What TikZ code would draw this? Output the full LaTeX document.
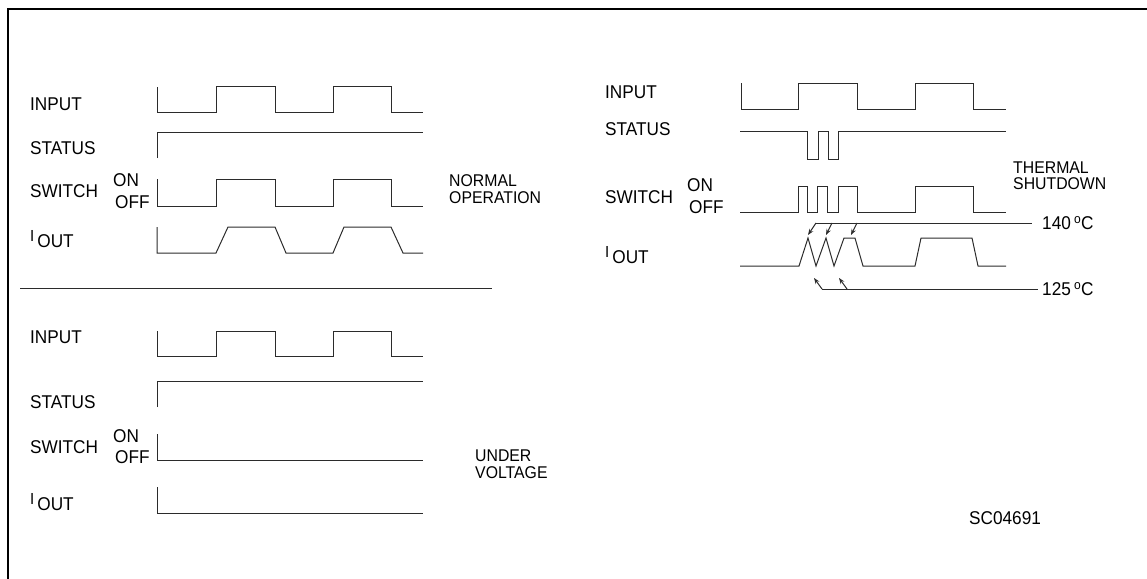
\documentclass[tikz,border=0pt]{standalone}
\usepackage{fontspec}
\setmainfont{Liberation Sans}[FakeStretch=0.93]
\usepackage{tikz}
\usetikzlibrary{arrows.meta,positioning}
\usepackage{xcolor}
\definecolor{trace}{HTML}{2b2b2b}
\newcommand{\iout}{{\fontsize{16}{16}\selectfont\raisebox{6pt}{I}}\,OUT}
\newcommand{\degc}{\,\textsuperscript{o}C}

\begin{document}
\begin{tikzpicture}[x=1pt,y=-1pt,>={Stealth[length=6pt,width=4.5pt]},
  lbl/.style={anchor=base west,inner sep=0pt,font=\fontsize{18.5}{21}\selectfont},
  note/.style={anchor=base west,inner sep=0pt,font=\fontsize{17}{20}\selectfont},
  temp/.style={inner sep=0pt,font=\fontsize{18.5}{21}\selectfont},
  wave/.style={trace,line width=1pt}]
  \useasboundingbox (0,0) rectangle (1147,578);
  \draw[line width=1.2pt] (8,580) -- (8,9) -- (1149,9);

  % normal operation
  \node[lbl] (in1) at (30,110) {INPUT};
  \node[lbl] (st1) at (30,154) {STATUS};
  \node[lbl] (sw1) at (30,197) {SWITCH};
  \node[lbl] (on1) at (113,186) {ON};
  \node[lbl] (off1) at (115,208) {OFF};
  \node[lbl] (io1) at (30,247) {\iout};
  \node[note] (norm) at (449,186) {NORMAL};
  \node[note] (oper) at (449,203) {OPERATION};
  \draw[wave] (157,87) -- (157,112) -- (216,112) -- (216,86) -- (275,86) -- (275,112)
    -- (333,112) -- (333,86) -- (391,86) -- (391,112) -- (423,112);
  \draw[wave] (157,158) -- (157,132) -- (423,132);
  \draw[wave] (157,179) -- (157,206) -- (216,206) -- (216,179) -- (275,179) -- (275,206)
    -- (333,206) -- (333,179) -- (391,179) -- (391,206) -- (423,206);
  \draw[wave] (157,227) -- (157,253) -- (216,253) -- (228,227) -- (275,227) -- (286,253)
    -- (333,253) -- (344,227) -- (391,227) -- (403,253) -- (423,253);

  \draw[wave] (20,288) -- (492,288);

  % under voltage
  \node[lbl] (in2) at (30,343) {INPUT};
  \node[lbl] (st2) at (30,408) {STATUS};
  \node[lbl] (sw2) at (30,453) {SWITCH};
  \node[lbl] (on2) at (113,442) {ON};
  \node[lbl] (off2) at (115,463) {OFF};
  \node[lbl] (io2) at (30,510) {\iout};
  \node[note] (under) at (475,461) {UNDER};
  \node[note] (volt) at (475,478) {VOLTAGE};
  \draw[wave] (157,331) -- (157,356) -- (216,356) -- (216,331) -- (275,331) -- (275,356)
    -- (333,356) -- (333,331) -- (391,331) -- (391,356) -- (423,356);
  \draw[wave] (157,407) -- (157,381) -- (423,381);
  \draw[wave] (157,434) -- (157,460) -- (423,460);
  \draw[wave] (157,487) -- (157,513) -- (423,513);

  % thermal shutdown
  \node[lbl] (in3) at (605,98) {INPUT};
  \node[lbl] (st3) at (605,135) {STATUS};
  \node[lbl] (sw3) at (605,203) {SWITCH};
  \node[lbl] (on3) at (687,191) {ON};
  \node[lbl] (off3) at (689,213) {OFF};
  \node[lbl] (io3) at (605,263) {\iout};
  \node[note] (therm) at (1013,173) {THERMAL};
  \node[note] (shut) at (1013,189) {SHUTDOWN};
  \draw[wave] (741,83) -- (741,109) -- (798,109) -- (798,83) -- (857,83) -- (857,109)
    -- (915,109) -- (915,83) -- (973,83) -- (973,109) -- (1006,109);
  \draw[wave] (740,131) -- (807,131) -- (807,159) -- (818,159) -- (818,131) -- (828,131)
    -- (828,159) -- (838,159) -- (838,131) -- (1006,131);
  \draw[wave] (740,212) -- (798,212) -- (798,186) -- (807,186) -- (807,212) -- (817,212)
    -- (817,186) -- (827,186) -- (827,212) -- (838,212) -- (838,186) -- (857,186)
    -- (857,212) -- (915,212) -- (915,186) -- (973,186) -- (973,212) -- (1006,212);
  \draw[wave] (740,266) -- (799,266) -- (808,238) -- (816,266) -- (826,238) -- (834,266)
    -- (844,238) -- (855,238) -- (863,266) -- (915,266) -- (921,238) -- (972,238)
    -- (978,266) -- (1006,266);

  % temperature limits
  \coordinate (a140) at (816,223); \coordinate (b140) at (832,223);
  \coordinate (c140) at (857,223); \coordinate (e140) at (1032,223);
  \coordinate (a125) at (822,289); \coordinate (b125) at (847,289);
  \coordinate (e125) at (1038,289);
  \node[temp,right=10pt of e140] (t140) {140\degc};
  \node[temp,right=4pt of e125] (t125) {125\degc};
  \draw[wave] (a140) -- (e140);
  \draw[wave] (a125) -- (e125);
  \draw[wave,->] (a140) -- (808,235);
  \draw[wave,->] (b140) -- (826,235);
  \draw[wave,->] (c140) -- (851,235);
  \draw[wave,->] (a125) -- (814,278);
  \draw[wave,->] (b125) -- (839,278);

  \node[lbl] (code) at (969,524) {SC04691};
\end{tikzpicture}
\end{document}
